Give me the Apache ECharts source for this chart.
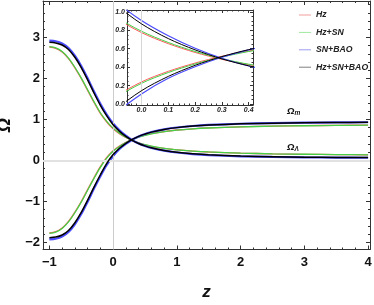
<!DOCTYPE html>
<html><head><meta charset="utf-8">
<script src="https://cdn.jsdelivr.net/npm/echarts@6/dist/echarts.min.js"></script>
<style>html,body{margin:0;padding:0;background:#fff}#c{width:374px;height:305px}</style>
</head><body><div id="c"></div>
<script>
const zVals = [-1,-0.9,-0.8,-0.7,-0.6,-0.5,-0.4,-0.3,-0.2,-0.1,0,0.1,0.2,0.3,0.4,0.5,0.6,0.8,1.0,1.25,1.5,2,2.5,3,3.5,4];
const hzM     = [-1.765,-1.735,-1.645,-1.485,-1.26,-1.00,-0.71,-0.42,-0.15,0.075,0.24,0.355,0.445,0.518,0.575,0.619,0.655,0.707,0.744,0.774,0.795,0.822,0.839,0.85,0.858,0.864];
const hzsnM   = [-1.775,-1.745,-1.657,-1.498,-1.274,-1.015,-0.725,-0.435,-0.165,0.06,0.225,0.342,0.435,0.51,0.57,0.616,0.652,0.705,0.742,0.772,0.793,0.82,0.837,0.848,0.856,0.862];
const snbaoM  = [-1.925,-1.908,-1.856,-1.745,-1.555,-1.305,-1.005,-0.685,-0.385,-0.11,0.11,0.28,0.405,0.508,0.588,0.647,0.695,0.76,0.805,0.842,0.867,0.897,0.913,0.923,0.929,0.933];
const allM    = [-1.882,-1.867,-1.817,-1.707,-1.517,-1.267,-0.967,-0.647,-0.347,-0.07,0.145,0.3,0.42,0.515,0.59,0.645,0.692,0.757,0.802,0.839,0.864,0.894,0.911,0.921,0.927,0.931];
const hzL     = [2.765,2.735,2.645,2.485,2.26,2.00,1.71,1.42,1.15,0.94,0.775,0.655,0.56,0.485,0.428,0.383,0.347,0.295,0.258,0.228,0.207,0.18,0.163,0.152,0.144,0.138];
const hzsnL   = [2.775,2.745,2.657,2.498,2.274,2.015,1.725,1.435,1.165,0.955,0.79,0.668,0.57,0.492,0.432,0.386,0.35,0.297,0.26,0.23,0.209,0.181,0.164,0.153,0.145,0.139];
const snbaoL  = [2.925,2.908,2.856,2.745,2.555,2.305,2.005,1.685,1.385,1.122,0.905,0.74,0.605,0.497,0.413,0.353,0.305,0.24,0.195,0.158,0.133,0.103,0.087,0.077,0.071,0.067];
const allL    = [2.882,2.867,2.817,2.707,2.517,2.267,1.967,1.647,1.347,1.087,0.87,0.71,0.588,0.49,0.415,0.357,0.31,0.245,0.2,0.163,0.138,0.108,0.091,0.081,0.075,0.071];

const seriesNames = ['Hz','Hz+SN','SN+BAO','Hz+SN+BAO'];
const seriesColors = ['#ff5a5a','#45d045','#4b4bff','#000000'];
const legendColors = ['#f29c9c','#9fe89f','#9c9cf0','#808080'];
const mainXTicks = [-1,0,1,2,3,4];
const mainYTicks = [-2,-1,0,1,2,3];
const insetXTicks = [0,0.1,0.2,0.3,0.4];
const insetYTicks = [0,0.2,0.4,0.6,0.8,1.0];

function range(a,b,step){const out=[];const n=Math.round((b-a)/step);for(let i=0;i<=n;i++)out.push(Math.round((a+i*step)*1000)/1000);return out;}
function minors(a,b,step,majors){return range(a,b,step).filter(v=>!majors.some(m=>Math.abs(m-v)<1e-6));}

const FONT = 'Liberation Sans, Arial, sans-serif';
const frameColor = '#333';
function axis(gridIndex,min,max,position,tickVals,tickLen,showLine,labelOpt,extra){
  const a = {type:'value',gridIndex,min,max,position,scale:true,
    axisLine:{show:showLine,onZero:false,lineStyle:{color:frameColor,width:1}},
    axisTick:{show:true,inside:true,length:tickLen,customValues:tickVals,lineStyle:{color:frameColor,width:1}},
    axisLabel: labelOpt ? Object.assign({customValues:tickVals},labelOpt) : {show:false},
    splitLine:{show:false},minorTick:{show:false},minorSplitLine:{show:false}};
  if(extra) Object.assign(a,extra);
  return a;
}
const minus = v => (v<0?'\u2212'+Math.abs(v):String(v));
const mainLabel = {show:true,fontFamily:FONT,fontSize:13,fontWeight:'bold',color:'#111',formatter:minus};
const insetLabel = {show:true,fontFamily:FONT,fontSize:7,fontWeight:'bold',fontStyle:'italic',color:'#222',formatter:v=>Number(v).toFixed(1)};

const MX=[-1.1,4.03], MY=[-2.17,3.89], IX=[-0.054,0.416], IY=[-0.01,1.02];
const mxMinor = minors(-1,4,0.2,mainXTicks), myMinor = minors(-2,3.8,0.2,mainYTicks);
const ixMinor = minors(-0.04,0.4,0.02,insetXTicks), iyMinor = minors(0,1,0.05,insetYTicks);

const xAxis = [
  axis(0,MX[0],MX[1],'bottom',mainXTicks,4,true,Object.assign({margin:6},mainLabel),
    {name:'z',nameLocation:'middle',nameGap:34,nameTextStyle:{fontFamily:FONT,fontSize:17,fontStyle:'italic',fontWeight:'bold',color:'#111'}}),
  axis(0,MX[0],MX[1],'bottom',mxMinor,2,false,null),
  axis(0,MX[0],MX[1],'top',mainXTicks,4,true,null),
  axis(0,MX[0],MX[1],'top',mxMinor,2,false,null),
  axis(1,IX[0],IX[1],'bottom',insetXTicks,3,true,Object.assign({margin:2},insetLabel)),
  axis(1,IX[0],IX[1],'bottom',ixMinor,1.5,false,null),
  axis(1,IX[0],IX[1],'top',insetXTicks,3,true,null),
  axis(1,IX[0],IX[1],'top',ixMinor,1.5,false,null)
];
const yAxis = [
  axis(0,MY[0],MY[1],'left',mainYTicks,4,true,Object.assign({margin:3},mainLabel),
    {name:'\u03A9',nameLocation:'middle',nameGap:20,nameRotate:90,nameTextStyle:{fontFamily:FONT,fontSize:18,fontStyle:'italic',fontWeight:'bold',color:'#111'}}),
  axis(0,MY[0],MY[1],'left',myMinor,2,false,null),
  axis(0,MY[0],MY[1],'right',mainYTicks,4,true,null),
  axis(0,MY[0],MY[1],'right',myMinor,2,false,null),
  axis(1,IY[0],IY[1],'left',insetYTicks,3,true,Object.assign({margin:2},insetLabel)),
  axis(1,IY[0],IY[1],'left',iyMinor,1.5,false,null),
  axis(1,IY[0],IY[1],'right',insetYTicks,3,true,null),
  axis(1,IY[0],IY[1],'right',iyMinor,1.5,false,null)
];

const series = [];
series.push({type:'line',xAxisIndex:0,yAxisIndex:0,data:[],silent:true,z:1,
  markLine:{silent:true,symbol:['none','none'],label:{show:false},animation:false,
    data:[{xAxis:0,lineStyle:{color:'#cccccc',width:1,type:'solid'}},{yAxis:0,lineStyle:{color:'#e2e2e2',width:2,type:'solid'}}]}});
series.push({type:'line',xAxisIndex:4,yAxisIndex:4,data:[],silent:true,z:1,
  markLine:{silent:true,symbol:['none','none'],label:{show:false},animation:false,
    data:[{xAxis:0,lineStyle:{color:'#d6d6d6',width:1,type:'solid'}}]}});
const mArr=[hzM,hzsnM,snbaoM,allM], lArr=[hzL,hzsnL,snbaoL,allL];
[[0,0,1.3],[4,4,1.0]].forEach(([xi,yi,wR])=>{
  seriesNames.forEach((nm,k)=>{
    [mArr[k],lArr[k]].forEach(arr=>{
      series.push({name:nm,type:'line',xAxisIndex:xi,yAxisIndex:yi,
        data:zVals.map((z,i)=>[z,arr[i]]),symbol:'none',showSymbol:false,
        smooth:0.3,clip:true,silent:true,z:2+k,
        lineStyle:{color:seriesColors[k],width:(k<2?wR:(k===2?(xi===0?2.2:1.2):(xi===0?1.5:1.0)))},
        itemStyle:{color:seriesColors[k]}});
    });
  });
});

const chart = echarts.init(document.getElementById('c'),null,{renderer:'canvas'});
chart.setOption({
  animation:false,
  backgroundColor:'#fff',
  grid:[{left:43,right:4,top:1,bottom:55.5,containLabel:false,outerBoundsMode:'none'},{left:127,top:10,width:126,height:95,containLabel:false,outerBoundsMode:'none'}],
  xAxis, yAxis,
  legend:{orient:'vertical',left:294,top:4.5,itemWidth:12,itemHeight:1,icon:'rect',itemGap:6.4,
    textStyle:{fontFamily:FONT,fontSize:8.7,fontStyle:'italic',fontWeight:'bold',color:'#222',lineHeight:11},
    data:seriesNames.map((n,k)=>({name:n,itemStyle:{color:legendColors[k]}}))},
  series,
  graphic:[
    {type:'text',x:287,y:111.7,style:{text:'{a|\u03A9}{b|m}',verticalAlign:'middle',align:'left',
      rich:{a:{fontFamily:FONT,fontSize:9.5,fontStyle:'italic',fontWeight:'bold',fill:'#111'},
            b:{fontFamily:FONT,fontSize:6.5,fontStyle:'italic',fontWeight:'bold',fill:'#111',padding:[4,0,0,0]}}}},
    {type:'text',x:287,y:147.7,style:{text:'{a|\u03A9}{b|\u039B}',verticalAlign:'middle',align:'left',
      rich:{a:{fontFamily:FONT,fontSize:9.5,fontStyle:'italic',fontWeight:'bold',fill:'#111'},
            b:{fontFamily:FONT,fontSize:6.5,fontStyle:'italic',fontWeight:'bold',fill:'#111',padding:[4,0,0,0]}}}}
  ]
});
</script></body></html>
